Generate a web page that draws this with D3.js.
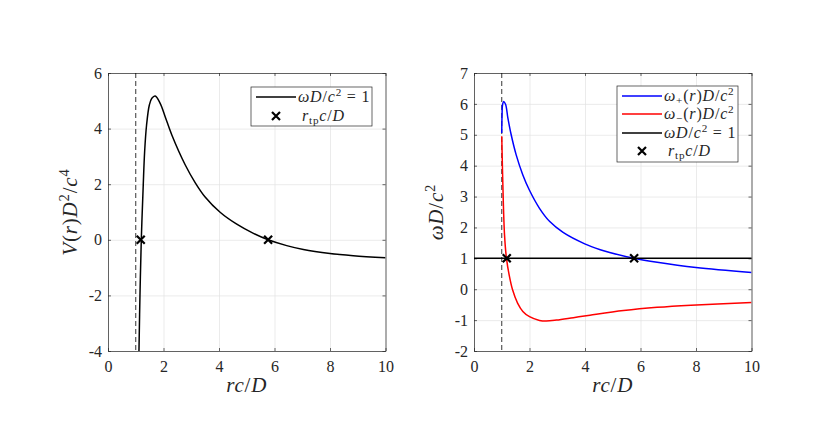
<!DOCTYPE html>
<html>
<head>
<meta charset="utf-8">
<script src="https://cdn.jsdelivr.net/npm/d3@7"></script>
<style>
  body { margin: 0; background: #fff; }
  text { font-family: "Liberation Serif", "DejaVu Serif", serif; fill: #262626; }
  .math { letter-spacing: 0.8px; }
</style>
</head>
<body>
<svg id="fig" width="830" height="440"></svg>
<script>
// tick values
const xTicks = [0, 2, 4, 6, 8, 10];
const vTicks = [-4, -2, 0, 2, 4, 6];
const wTicks = [-2, -1, 0, 1, 2, 3, 4, 5, 6, 7];

// V(r) D^2/c^4 for omega D/c^2 = 1
const vR   = [1.09, 1.116, 1.152, 1.20, 1.27, 1.32, 1.39, 1.49, 1.58, 1.70, 1.88, 2.06, 2.30, 2.78, 3.14, 3.50, 4.04, 4.64, 5.24, 5.77, 6.44, 7.04, 8.00, 8.84, 10.0];
const vVal = [-5.5, -4.0, -2.0, 0.0, 1.97, 3.17, 4.13, 4.85, 5.09, 5.17, 4.91, 4.43, 3.77, 2.70, 2.06, 1.54, 0.99, 0.56, 0.23, 0.0, -0.21, -0.35, -0.49, -0.57, -0.65];

// omega_+(r) D/c^2 (blue)
const wPlusR = [1.0, 1.01, 1.03, 1.07, 1.14, 1.22, 1.34, 1.52, 1.76, 1.99, 2.36, 2.73, 3.21, 3.99, 4.55, 4.89, 5.77, 6.60, 8.00, 10.0];
const wPlus  = [5.06, 5.60, 5.98, 6.08, 5.98, 5.55, 5.00, 4.35, 3.70, 3.22, 2.62, 2.19, 1.84, 1.47, 1.28, 1.19, 1.00, 0.87, 0.70, 0.54];

// omega_-(r) D/c^2 (red)
const wMinusR = [1.0, 1.04, 1.10, 1.17, 1.27, 1.39, 1.57, 1.76, 2.0, 2.36, 2.60, 2.97, 3.58, 4.18, 5.39, 6.60, 7.82, 10.0];
const wMinus  = [4.95, 3.38, 1.76, 1.0, 0.45, -0.02, -0.45, -0.72, -0.89, -1.01, -1.03, -1.00, -0.92, -0.84, -0.69, -0.585, -0.515, -0.43];

const omegaLevel = 1;
const turnR = [1.18, 5.77];
const horizonR = 1;

const svg = d3.select('#fig');
const top0 = 73, bot0 = 351;

// writes LaTeX-ish text: parts are [text, kind] with kind in '', 'i', 'sup', 'sub'
function rich(t, parts, size) {
    t.classed('math', true);
    let shift = 0;
    parts.forEach(([s, kind]) => {
        const ts = t.append('tspan').text(s);
        let target = 0;
        if (kind === 'sup') target = -0.38 * size;
        if (kind === 'sub') target = 0.2 * size;
        if (kind === 'sup' || kind === 'sub') ts.style('font-size', (size * 0.7) + 'px');
        if (kind === 'i') ts.style('font-style', 'italic');
        if (target !== shift) { ts.attr('dy', target - shift); shift = target; }
    });
}

const crossPath = 'M-4,-4L4,4M-4,4L4,-4';

function panel(name, xl, xr, yDomain, yTicks) {
    const x = d3.scaleLinear().domain([0, 10]).range([xl, xr]);
    const y = d3.scaleLinear().domain(yDomain).range([bot0, top0]);
    const g = svg.append('g');

    g.append('clipPath').attr('id', 'clip-' + name).append('rect')
        .attr('x', xl).attr('y', top0).attr('width', xr - xl).attr('height', bot0 - top0);

    // grid
    const grid = g.append('g');
    grid.append('g').attr('transform', `translate(0,${bot0})`)
        .call(d3.axisBottom(x).tickValues(xTicks).tickSize(-(bot0 - top0)).tickFormat(''));
    grid.append('g').attr('transform', `translate(${xl},0)`)
        .call(d3.axisLeft(y).tickValues(yTicks).tickSize(-(xr - xl)).tickFormat(''));
    grid.selectAll('.domain').remove();
    grid.selectAll('line').attr('stroke', '#e3e3e3').attr('stroke-width', 0.7);

    // box + inward ticks on all four sides
    const axes = g.append('g');
    const bottom = axes.append('g').attr('transform', `translate(0,${bot0})`)
        .call(d3.axisBottom(x).tickValues(xTicks).tickSizeInner(-3).tickSizeOuter(0).tickPadding(10));
    const left = axes.append('g').attr('transform', `translate(${xl},0)`)
        .call(d3.axisLeft(y).tickValues(yTicks).tickSizeInner(-3).tickSizeOuter(0).tickPadding(6)
            .tickFormat(d => d < 0 ? '-' + Math.abs(d) : d));
    axes.append('g').attr('transform', `translate(0,${top0})`)
        .call(d3.axisTop(x).tickValues(xTicks).tickSizeInner(-3).tickSizeOuter(0).tickFormat(''));
    axes.append('g').attr('transform', `translate(${xr},0)`)
        .call(d3.axisRight(y).tickValues(yTicks).tickSizeInner(-3).tickSizeOuter(0).tickFormat(''));
    axes.selectAll('.domain, .tick line').attr('stroke', '#262626').attr('stroke-width', 0.7);
    [bottom, left].forEach(a => a.selectAll('text')
        .attr('fill', '#262626').style('font-family', '"Liberation Serif", serif').style('font-size', '16px'));

    // x label
    const xt = g.append('text').attr('x', (xl + xr) / 2).attr('y', 392).attr('text-anchor', 'middle').style('font-size', '21px');
    rich(xt, [['rc', 'i'], ['/', ''], ['D', 'i']], 21);

    // dashed line at r = D/c
    g.append('line').attr('x1', x(horizonR)).attr('x2', x(horizonR)).attr('y1', top0).attr('y2', bot0)
        .attr('stroke', '#000').attr('stroke-width', 0.8).attr('stroke-dasharray', '5,3');

    return { g, x, y, clip: `url(#clip-${name})` };
}

const line = (x, y) => d3.line().x(d => x(d[0])).y(d => y(d[1])).curve(d3.curveCatmullRom.alpha(0.5));

// ---- left panel ----
const L = panel('left', 108, 385.5, [-4, 6], vTicks);
const ylL = L.g.append('text').attr('transform', 'translate(77,212) rotate(-90)').attr('text-anchor', 'middle').style('font-size', '21px');
rich(ylL, [['V', 'i'], ['(', ''], ['r', 'i'], [')', ''], ['D', 'i'], ['2', 'sup'], ['/', ''], ['c', 'i'], ['4', 'sup']], 21);

L.g.append('path').datum(d3.zip(vR, vVal)).attr('clip-path', L.clip)
    .attr('d', line(L.x, L.y)).attr('fill', 'none').attr('stroke', '#000').attr('stroke-width', 1.5);
L.g.selectAll('.tp').data(turnR).enter().append('path')
    .attr('transform', d => `translate(${L.x(d)},${L.y(0)})`).attr('d', crossPath)
    .attr('stroke', '#000').attr('stroke-width', 2.2);

// left legend
const lgL = L.g.append('g');
lgL.append('rect').attr('x', 251).attr('y', 87).attr('width', 121).attr('height', 39)
    .attr('fill', '#fff').attr('stroke', '#262626').attr('stroke-width', 0.7);
lgL.append('line').attr('x1', 256).attr('x2', 296).attr('y1', 97).attr('y2', 97).attr('stroke', '#000').attr('stroke-width', 1.5);
lgL.append('path').attr('transform', 'translate(276,116)').attr('d', crossPath).attr('stroke', '#000').attr('stroke-width', 2.2);
rich(lgL.append('text').attr('x', 298).attr('y', 102).style('font-size', '16px'),
    [['ω', 'i'], ['D', 'i'], ['/', ''], ['c', 'i'], ['2', 'sup'], [' = 1', '']], 16);
rich(lgL.append('text').attr('x', 302).attr('y', 121).style('font-size', '16px'),
    [['r', 'i'], ['tp', 'sub'], ['c', 'i'], ['/', ''], ['D', 'i']], 16);

// ---- right panel ----
const R = panel('right', 474, 751.5, [-2, 7], wTicks);
const ylR = R.g.append('text').attr('transform', 'translate(443,212) rotate(-90)').attr('text-anchor', 'middle').style('font-size', '21px');
rich(ylR, [['ω', 'i'], ['D', 'i'], ['/', ''], ['c', 'i'], ['2', 'sup']], 21);

R.g.append('path').datum(d3.zip(wPlusR, wPlus)).attr('clip-path', R.clip)
    .attr('d', line(R.x, R.y)).attr('fill', 'none').attr('stroke', '#0000ff').attr('stroke-width', 1.5);
R.g.append('path').datum(d3.zip(wMinusR, wMinus)).attr('clip-path', R.clip)
    .attr('d', line(R.x, R.y)).attr('fill', 'none').attr('stroke', '#ff0000').attr('stroke-width', 1.5);
R.g.append('line').attr('x1', R.x(0)).attr('x2', R.x(10)).attr('y1', R.y(omegaLevel)).attr('y2', R.y(omegaLevel))
    .attr('stroke', '#000').attr('stroke-width', 1.5);
R.g.selectAll('.tp').data(turnR).enter().append('path')
    .attr('transform', d => `translate(${R.x(d)},${R.y(omegaLevel)})`).attr('d', crossPath)
    .attr('stroke', '#000').attr('stroke-width', 2.2);

// right legend
const lgR = R.g.append('g');
lgR.append('rect').attr('x', 617).attr('y', 86).attr('width', 121).attr('height', 76)
    .attr('fill', '#fff').attr('stroke', '#262626').attr('stroke-width', 0.7);
const rows = [
    { y: 96, color: '#0000ff', parts: [['ω', 'i'], ['+', 'sub'], ['(', ''], ['r', 'i'], [')', ''], ['D', 'i'], ['/', ''], ['c', 'i'], ['2', 'sup']] },
    { y: 114, color: '#ff0000', parts: [['ω', 'i'], ['−', 'sub'], ['(', ''], ['r', 'i'], [')', ''], ['D', 'i'], ['/', ''], ['c', 'i'], ['2', 'sup']] },
    { y: 133, color: '#000', parts: [['ω', 'i'], ['D', 'i'], ['/', ''], ['c', 'i'], ['2', 'sup'], [' = 1', '']] },
    { y: 151, color: null, parts: [['r', 'i'], ['tp', 'sub'], ['c', 'i'], ['/', ''], ['D', 'i']] }
];
rows.forEach(r => {
    if (r.color) {
        lgR.append('line').attr('x1', 622).attr('x2', 662).attr('y1', r.y).attr('y2', r.y).attr('stroke', r.color).attr('stroke-width', 1.5);
    } else {
        lgR.append('path').attr('transform', `translate(642,${r.y})`).attr('d', crossPath).attr('stroke', '#000').attr('stroke-width', 2.2);
    }
    rich(lgR.append('text').attr('x', r.color ? 664 : 668).attr('y', r.y + 5).style('font-size', '16px'), r.parts, 16);
});
</script>
</body>
</html>
